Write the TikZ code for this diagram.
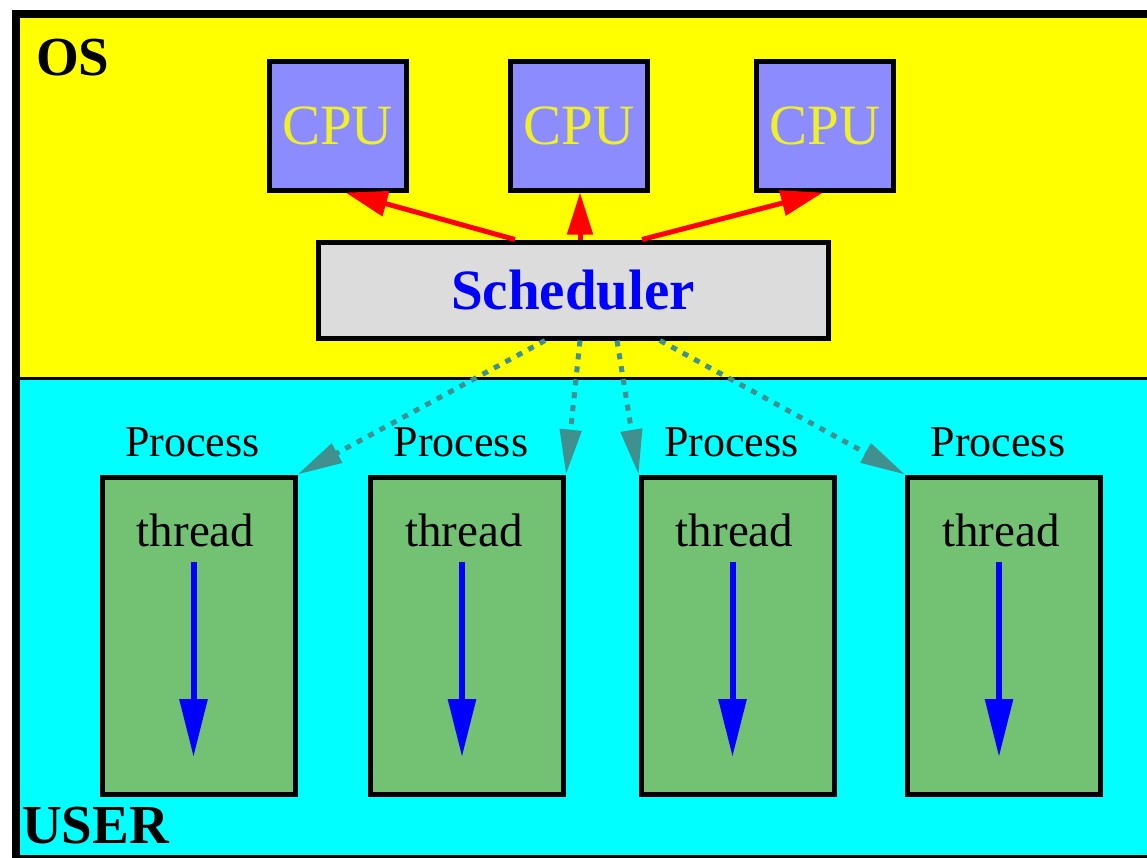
\documentclass[tikz,border=0pt]{standalone}
\usepackage{fontspec}
\setmainfont{Liberation Serif}
\usetikzlibrary{arrows.meta,calc}

\definecolor{osyellow}{RGB}{255,255,0}
\definecolor{usercyan}{RGB}{0,255,255}
\definecolor{cpufill}{RGB}{140,140,255}
\definecolor{cputext}{RGB}{240,240,40}
\definecolor{schedfill}{RGB}{220,220,220}
\definecolor{procfill}{RGB}{115,194,115}
\definecolor{dispatch}{RGB}{64,144,144}

\begin{document}
\begin{tikzpicture}[x=1pt,y=-1pt,
  box/.style={draw=black,line width=5pt,inner sep=0pt},
  cpubox/.style={box,fill=cpufill,minimum width=137pt,minimum height=129pt,
    text=cputext,font=\fontsize{57}{60}\selectfont},
  schedbox/.style={box,fill=schedfill,minimum width=510pt,minimum height=96pt,
    text=blue,font=\bfseries\fontsize{57}{60}\selectfont},
  procbox/.style={box,fill=procfill,minimum width=193pt,minimum height=317pt},
  biglabel/.style={anchor=base west,inner sep=0pt,font=\bfseries\fontsize{55}{60}\selectfont},
  proclabel/.style={anchor=base,inner sep=0pt,font=\fontsize{44}{48}\selectfont},
  threadlabel/.style={anchor=base,inner sep=0pt,font=\fontsize{47}{50}\selectfont},
  assign/.style={red,line width=5pt,-{Triangle[length=42pt,width=25pt]}},
  dispatcharrow/.style={dispatch,line width=5pt,dash pattern=on 6pt off 7pt,
    -{Triangle[length=45pt,width=21pt]}},
  flow/.style={blue,line width=6pt,-{Triangle[length=58pt,width=27pt]}}
]
\useasboundingbox (0,0) rectangle (1147,857);
\clip (0,0) rectangle (1147,857);

% background regions
\fill[white] (0,0) rectangle (1147,857);
\fill[osyellow] (16,14) rectangle (1160,378);
\fill[usercyan] (16,378) rectangle (1160,860);
\draw[line width=3pt] (16,378) -- (1160,378);
\draw[line width=8pt] (16,859) -- (16,14) -- (1160,14);
\draw[line width=4pt] (16,857) -- (1160,857);

% region labels
\node[biglabel] (os) at (36,75) {OS};
\node[biglabel] (user) at (22,843) {USER};

% processors
\node[cpubox] (cpu1) at (337.5,125.5) {CPU};
\node[cpubox] (cpu2) at (579,125.5) {CPU};
\node[cpubox] (cpu3) at (825,125.5) {CPU};

% scheduler
\node[schedbox] (sched) at (573,290) {Scheduler};

% processes
\foreach \i/\x in {1/198.5,2/467,3/737.5,4/1004}{
  \node[procbox] (proc\i) at (\x,635.5) {};
  \node[proclabel] (plabel\i) at (\x-6,456) {Process};
  \node[threadlabel] (tlabel\i) at (\x-3,546) {thread};
  \coordinate (tstart\i) at (\x-5,562);
  \coordinate (tend\i) at (\x-5,757);
  \draw[flow] (tstart\i) -- (tend\i);
}

% scheduler to processors
\draw[assign] ($(sched.north)+(-58,0)$) -- ($(cpu1.south)+(8,0)$);
\draw[assign] ($(sched.north)+(7,0)$) -- ($(cpu2.south)+(1,0)$);
\draw[assign] ($(sched.north)+(69,0)$) -- ($(cpu3.south)+(-2,0)$);

% scheduler to processes
\draw[dispatcharrow] ($(sched.south)+(-28,0)$) -- (proc1.north east);
\draw[dispatcharrow] ($(sched.south)+(7,0)$) -- (proc2.north east);
\draw[dispatcharrow] ($(sched.south)+(44,0)$) -- (proc3.north west);
\draw[dispatcharrow] ($(sched.south)+(87,0)$) -- (proc4.north west);
\end{tikzpicture}
\end{document}
